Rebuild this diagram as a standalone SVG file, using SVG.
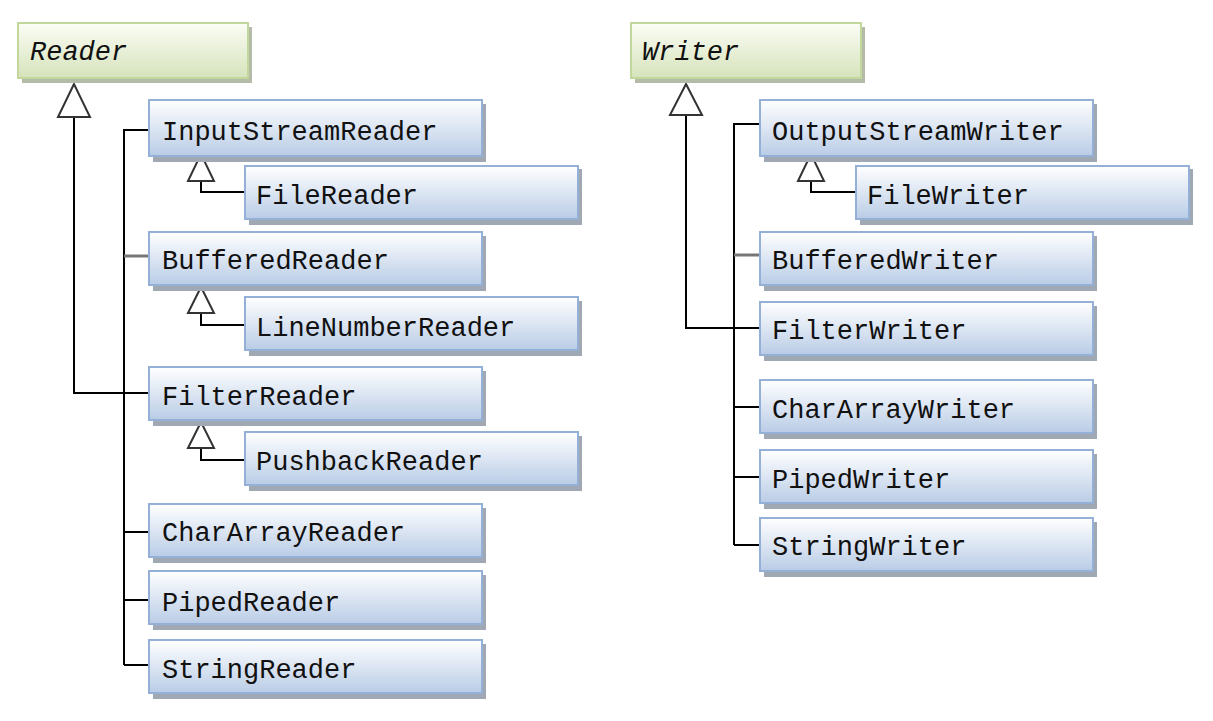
<svg xmlns="http://www.w3.org/2000/svg" width="1213" height="721" viewBox="0 0 1213 721">
<defs>
<linearGradient id="gb" x1="0" y1="0" x2="0" y2="1"><stop offset="0" stop-color="#ffffff"/><stop offset="1" stop-color="#b9cce6"/></linearGradient>
<linearGradient id="gg" x1="0" y1="0" x2="0" y2="1"><stop offset="0" stop-color="#fbfdf5"/><stop offset="1" stop-color="#d6e3bb"/></linearGradient>
<style>
.b{fill:url(#gb);stroke:#94b0d6;stroke-width:2}
.g{fill:url(#gg);stroke:#c2d79b;stroke-width:2}
.s{fill:#a0a8b4}
.sg{fill:#b4bca8}
text{font-family:"Liberation Mono","DejaVu Sans Mono",monospace;font-size:27px;fill:#111}
.i{font-style:italic}
.c{fill:none;stroke:#000;stroke-width:2}
.t{fill:#fff;stroke:#333;stroke-width:2}
</style>
</defs>
<g id="connectors">
<path class="c" d="M74 117V393H149"/>
<path class="c" d="M124 665V130H149M124 532H149M124 600H149M124 665H149"/>
<path d="M124 256H149" stroke="#777" stroke-width="3"/>
<path class="c" d="M201 181V192H245M201 313V325H245M201 448V460H245"/>
<polygon class="t" points="74,84 58,117 90,117"/>
<polygon class="t" points="201,154 188,181 214,181"/>
<polygon class="t" points="201,287 188,313 214,313"/>
<polygon class="t" points="201,422 188,448 214,448"/>
<path class="c" d="M686 115V328H760"/>
<path class="c" d="M734 545V124H760M734 407H760M734 477H760M734 545H760"/>
<path d="M734 255H760" stroke="#777" stroke-width="3"/>
<path class="c" d="M811 181V192H856"/>
<polygon class="t" points="686,84 670,115 702,115"/>
<polygon class="t" points="811,154 798,181 824,181"/>
</g>
<g id="Reader"><rect class="sg" x="22" y="27" width="230" height="56"/><rect class="g" x="18" y="23" width="230" height="55"/><text class="i" x="30" y="60">Reader</text></g>
<g id="InputStreamReader"><rect class="s" x="153" y="104" width="333" height="58"/><rect class="b" x="149" y="100" width="333" height="56"/><text x="162" y="140">InputStreamReader</text></g>
<g id="FileReader"><rect class="s" x="249" y="169" width="333" height="56"/><rect class="b" x="245" y="166" width="333" height="53"/><text x="256" y="204">FileReader</text></g>
<g id="BufferedReader"><rect class="s" x="153" y="236" width="333" height="55"/><rect class="b" x="149" y="232" width="333" height="53"/><text x="162" y="269">BufferedReader</text></g>
<g id="LineNumberReader"><rect class="s" x="249" y="301" width="333" height="55"/><rect class="b" x="245" y="297" width="333" height="53"/><text x="256" y="336">LineNumberReader</text></g>
<g id="FilterReader"><rect class="s" x="153" y="371" width="333" height="55"/><rect class="b" x="149" y="367" width="333" height="53"/><text x="162" y="405">FilterReader</text></g>
<g id="PushbackReader"><rect class="s" x="249" y="436" width="333" height="55"/><rect class="b" x="245" y="432" width="333" height="53"/><text x="256" y="470">PushbackReader</text></g>
<g id="CharArrayReader"><rect class="s" x="153" y="508" width="333" height="55"/><rect class="b" x="149" y="504" width="333" height="53"/><text x="162" y="541">CharArrayReader</text></g>
<g id="PipedReader"><rect class="s" x="153" y="575" width="333" height="55"/><rect class="b" x="149" y="571" width="333" height="53"/><text x="162" y="611">PipedReader</text></g>
<g id="StringReader"><rect class="s" x="153" y="644" width="333" height="55"/><rect class="b" x="149" y="640" width="333" height="53"/><text x="162" y="678">StringReader</text></g>
<g id="Writer"><rect class="sg" x="635" y="27" width="230" height="56"/><rect class="g" x="631" y="23" width="230" height="55"/><text class="i" x="642" y="60">Writer</text></g>
<g id="OutputStreamWriter"><rect class="s" x="764" y="104" width="333" height="58"/><rect class="b" x="760" y="100" width="333" height="56"/><text x="772" y="140">OutputStreamWriter</text></g>
<g id="FileWriter"><rect class="s" x="860" y="169" width="333" height="56"/><rect class="b" x="856" y="166" width="333" height="53"/><text x="867" y="204">FileWriter</text></g>
<g id="BufferedWriter"><rect class="s" x="764" y="236" width="333" height="55"/><rect class="b" x="760" y="232" width="333" height="53"/><text x="772" y="269">BufferedWriter</text></g>
<g id="FilterWriter"><rect class="s" x="764" y="306" width="333" height="55"/><rect class="b" x="760" y="302" width="333" height="53"/><text x="772" y="339">FilterWriter</text></g>
<g id="CharArrayWriter"><rect class="s" x="764" y="384" width="333" height="55"/><rect class="b" x="760" y="380" width="333" height="53"/><text x="772" y="418">CharArrayWriter</text></g>
<g id="PipedWriter"><rect class="s" x="764" y="454" width="333" height="55"/><rect class="b" x="760" y="450" width="333" height="53"/><text x="772" y="488">PipedWriter</text></g>
<g id="StringWriter"><rect class="s" x="764" y="522" width="333" height="55"/><rect class="b" x="760" y="518" width="333" height="53"/><text x="772" y="555">StringWriter</text></g>
</svg>
